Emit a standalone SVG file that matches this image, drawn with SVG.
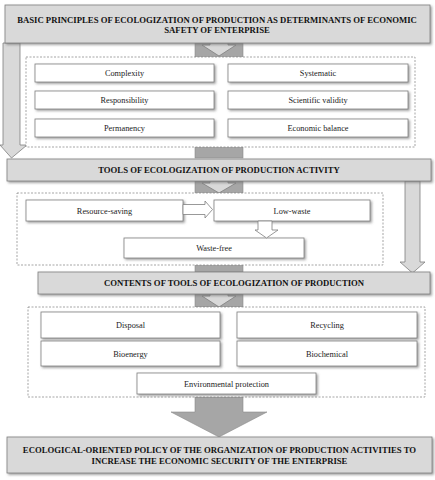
<svg xmlns="http://www.w3.org/2000/svg" width="435" height="480" viewBox="0 0 435 480">
<defs>
<filter id="sh" x="-5%" y="-20%" width="115%" height="150%">
<feDropShadow dx="1.5" dy="1.5" stdDeviation="0.8" flood-color="#777" flood-opacity="0.7"/>
</filter>
</defs>
<style>
.hdr{fill:#d9d9d9;stroke:#7f7f7f;stroke-width:0.8;filter:url(#sh)}
.item{fill:#fff;stroke:#7f7f7f;stroke-width:0.8;filter:url(#sh)}
.dash{fill:#fff;stroke:#808080;stroke-width:0.7;stroke-dasharray:2,1.5}
.bar{fill:#a6a6a6;stroke:#8a8a8a;stroke-width:0.6}
.lar{fill:#d9d9d9;stroke:#7f7f7f;stroke-width:0.8}
.war{fill:#fff;stroke:#7f7f7f;stroke-width:0.8}
.ht{font-family:"Liberation Serif",serif;font-weight:bold;font-size:8.7px;fill:#111;text-anchor:middle}
.it{font-family:"Liberation Serif",serif;font-size:8.3px;fill:#222;text-anchor:middle}
</style>

<g id="connectors">
<rect class="bar" x="195" y="43" width="48" height="115"/>
<rect class="bar" x="195" y="181" width="48" height="91"/>
<rect class="bar" x="195" y="294" width="48" height="13"/>
<polygon class="lar" points="210,43 228,43 228,45 236,45 219,56 202,45 210,45"/>
<polygon class="lar" points="210,181 228,181 228,183 236,183 219,193 202,183 210,183"/>
<polygon class="lar" points="210,294 228,294 228,296 236,296 219,307 202,296 210,296"/>
<polygon class="lar" points="3,43 20,43 20,145 27,145 11.5,158 0,145 3,145"/>
<polygon class="lar" points="405,181 420,181 420,262 425,262 412.5,273 400,262 405,262"/>
<polygon class="bar" points="195,397 243,397 243,412 267,412 219,437 171,412 195,412"/>
</g>

<g id="principles-header">
<rect class="hdr" x="5" y="5" width="425" height="38"/>
<text class="ht" x="217" y="22.5">BASIC PRINCIPLES OF ECOLOGIZATION OF PRODUCTION AS DETERMINANTS OF ECONOMIC</text>
<text class="ht" x="217" y="32.5">SAFETY OF ENTERPRISE</text>
</g>

<g id="principles-group">
<rect class="dash" x="26" y="57" width="389" height="90"/>
<g id="complexity"><rect class="item" x="35" y="64" width="179" height="18"/><text class="it" x="124.5" y="76">Complexity</text></g>
<g id="systematic"><rect class="item" x="228" y="64" width="180" height="18"/><text class="it" x="318" y="76">Systematic</text></g>
<g id="responsibility"><rect class="item" x="35" y="91" width="179" height="18"/><text class="it" x="124.5" y="103">Responsibility</text></g>
<g id="scientific"><rect class="item" x="228" y="91" width="180" height="18"/><text class="it" x="318" y="103">Scientific validity</text></g>
<g id="permanency"><rect class="item" x="35" y="119" width="179" height="18"/><text class="it" x="124.5" y="131">Permanency</text></g>
<g id="balance"><rect class="item" x="228" y="119" width="180" height="18"/><text class="it" x="318" y="131">Economic balance</text></g>
</g>

<g id="tools-header">
<rect class="hdr" x="7" y="159" width="424" height="22"/>
<text class="ht" x="219" y="173">TOOLS OF ECOLOGIZATION OF PRODUCTION ACTIVITY</text>
</g>

<g id="tools-group">
<rect class="dash" x="17" y="193" width="366" height="72"/>
<g id="resource-saving"><rect class="item" x="26" y="200" width="157" height="21"/><text class="it" x="104.5" y="213.5">Resource-saving</text></g>
<g id="low-waste"><rect class="item" x="214" y="200" width="156" height="21"/><text class="it" x="292" y="213.5">Low-waste</text></g>
<g id="waste-free"><rect class="item" x="124" y="238" width="180" height="20"/><text class="it" x="214" y="251">Waste-free</text></g>
<polygon class="war" points="183,204.5 205,204.5 205,201 212.5,209.5 205,218 205,214.5 183,214.5"/>
<polygon class="war" points="258,221 272,221 272,230 278,230 266.5,238 255,230 258,230"/>
</g>

<g id="contents-header">
<rect class="hdr" x="38" y="272" width="392" height="22"/>
<text class="ht" x="234" y="286">CONTENTS OF TOOLS OF ECOLOGIZATION OF PRODUCTION</text>
</g>

<g id="contents-group">
<rect class="dash" x="28" y="307" width="397" height="90"/>
<g id="disposal"><rect class="item" x="41" y="312" width="179" height="26"/><text class="it" x="130.5" y="328">Disposal</text></g>
<g id="recycling"><rect class="item" x="237" y="312" width="180" height="26"/><text class="it" x="327" y="328">Recycling</text></g>
<g id="bioenergy"><rect class="item" x="41" y="341" width="179" height="25"/><text class="it" x="130.5" y="356.5">Bioenergy</text></g>
<g id="biochemical"><rect class="item" x="237" y="341" width="180" height="25"/><text class="it" x="327" y="356.5">Biochemical</text></g>
<g id="environmental"><rect class="item" x="137" y="373" width="179" height="21"/><text class="it" x="226.5" y="386.5">Environmental protection</text></g>
</g>

<g id="policy-header">
<rect class="hdr" x="7" y="437" width="425" height="36"/>
<text class="ht" x="219.5" y="452.5">ECOLOGICAL-ORIENTED POLICY OF THE ORGANIZATION OF PRODUCTION ACTIVITIES TO</text>
<text class="ht" x="219.5" y="463.5">INCREASE THE ECONOMIC SECURITY OF THE ENTERPRISE</text>
</g>
</svg>
